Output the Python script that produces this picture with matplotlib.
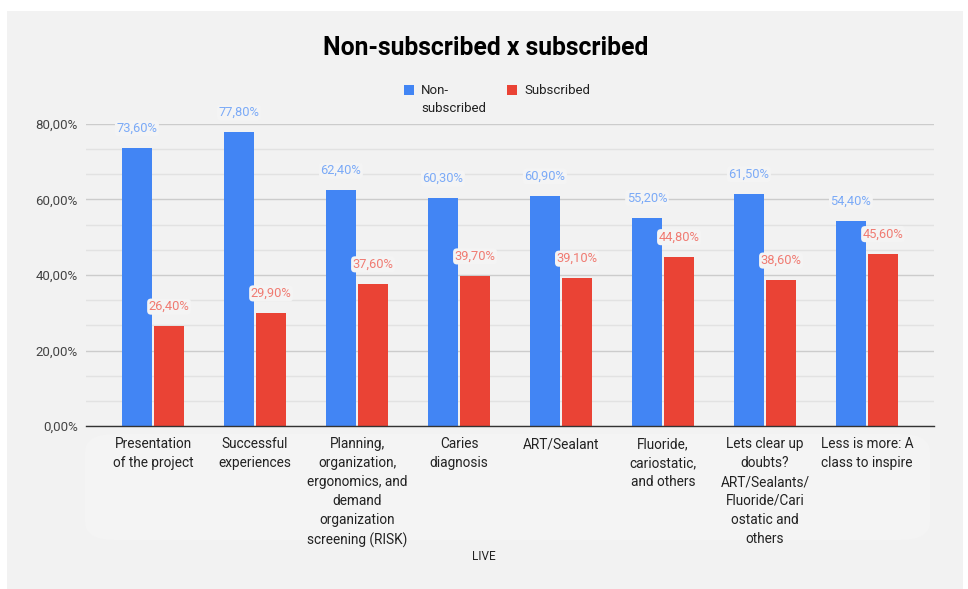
import matplotlib
matplotlib.use("Agg")
import matplotlib.pyplot as plt
from matplotlib.patches import FancyBboxPatch, Rectangle
from matplotlib.ticker import FuncFormatter, MultipleLocator
import numpy as np

plt.rcParams['font.family'] = ['Roboto', 'DejaVu Sans']

categories = [
    "Presentation\nof the project",
    "Successful\nexperiences",
    "Planning,\norganization,\nergonomics, and\ndemand\norganization\nscreening (RISK)",
    "Caries\ndiagnosis",
    "ART/Sealant",
    "Fluoride,\ncariostatic,\nand others",
    "Lets clear up\ndoubts?\nART/Sealants/\nFluoride/Cari\nostatic and\nothers",
    "Less is more: A\nclass to inspire",
]
non_subscribed = [73.6, 77.8, 62.4, 60.3, 60.9, 55.2, 61.5, 54.4]
subscribed = [26.4, 29.9, 37.6, 39.7, 39.1, 44.8, 38.6, 45.6]
series_names = ["Non-\nsubscribed", "Subscribed"]
title = "Non-subscribed x subscribed"
xlabel = "LIVE"

BLUE = "#4285F4"
RED = "#EA4335"
BLUE_L = "#7BAAF7"
RED_L = "#F07B72"
BG = "#F2F2F2"

W, H = 968, 589
fig = plt.figure(figsize=(W / 100, H / 100), dpi=100)
fig.patch.set_facecolor("white")
# gray panel
fig.add_artist(Rectangle((7 / W, 0), (963 - 7) / W, (589 - 11) / H,
                         transform=fig.transFigure, facecolor=BG, edgecolor="none", zorder=-2))
# faint lighter region behind category labels
fig.add_artist(FancyBboxPatch((85 / W, (589 - 540) / H), (930 - 85) / W, (540 - 434) / H,
                              boxstyle="round,pad=0,rounding_size=0.03",
                              transform=fig.transFigure, facecolor="#F4F4F4",
                              edgecolor="none", zorder=-1))

left, right, top, bottom = 86, 934, 124, 426
ax = fig.add_axes([left / W, 1 - bottom / H, (right - left) / W, (bottom - top) / H])
ax.set_facecolor("none")
ax.set_zorder(1)

x = np.arange(len(categories))
bw = 0.295
gap = 0.01
ax.bar(x - bw / 2 - gap, non_subscribed, width=bw, color=BLUE, zorder=3, label=series_names[0])
ax.bar(x + bw / 2 + gap, subscribed, width=bw, color=RED, zorder=3, label=series_names[1])

halo = dict(boxstyle="round,pad=0.12,rounding_size=0.3", facecolor="#F4F4F4", edgecolor="none")
for xi, v in zip(x, non_subscribed):
    ax.text(xi - bw / 2 - gap, v + 3.5, f"{v:.2f}%".replace(".", ","), ha="center", va="bottom",
            color=BLUE_L, fontsize=9.3, zorder=4, bbox=halo)
for xi, v in zip(x, subscribed):
    ax.text(xi + bw / 2 + gap, v + 3.5, f"{v:.2f}%".replace(".", ","), ha="center", va="bottom",
            color=RED_L, fontsize=9.3, zorder=4, bbox=halo)

ax.set_xlim(-0.657, len(categories) - 1 + 0.657)
ax.set_ylim(0, 80)
ax.yaxis.set_major_locator(MultipleLocator(20))
ax.yaxis.set_minor_locator(MultipleLocator(20 / 3))
ax.yaxis.set_major_formatter(FuncFormatter(lambda v, p: f"{v:.2f}%".replace(".", ",")))
ax.grid(axis="y", which="major", color="#CCCCCC", linewidth=1.0, zorder=1)
ax.grid(axis="y", which="minor", color="#E2E2E2", linewidth=1.0, zorder=1)
ax.tick_params(axis="y", which="both", length=0, labelsize=9.5, labelcolor="#444444", pad=6)
ax.tick_params(axis="x", length=0, pad=8)
ax.set_xticks(x)
ax.set_xticklabels(categories, fontsize=9.8, color="#222222", linespacing=1.45, va="top")
for s in ["top", "right", "left"]:
    ax.spines[s].set_visible(False)
ax.spines["bottom"].set_color("#333333")
ax.spines["bottom"].set_linewidth(1.0)
ax.spines["bottom"].set_zorder(5)

fig.text(486 / W, 1 - 48 / H, title, ha="center", va="center", fontsize=17.8,
         fontweight="bold", color="#000000")
fig.text(484 / W, 1 - 557 / H, xlabel, ha="center", va="center", fontsize=8.5, color="#222222")

# legend (drawn manually to match the wrapped label)
sq = 10
for (sx, name, col) in [(404, series_names[0], BLUE), (507, series_names[1], RED)]:
    fig.add_artist(Rectangle((sx / W, 1 - 95 / H), sq / W, sq / H, transform=fig.transFigure,
                             facecolor=col, edgecolor="none", zorder=3))
    fig.text((sx + 17) / W, 1 - 84 / H, name, ha="left", va="top", fontsize=9.5,
             color="#222222", linespacing=1.55)

fig.savefig("out.png", dpi=100, facecolor=fig.get_facecolor())
